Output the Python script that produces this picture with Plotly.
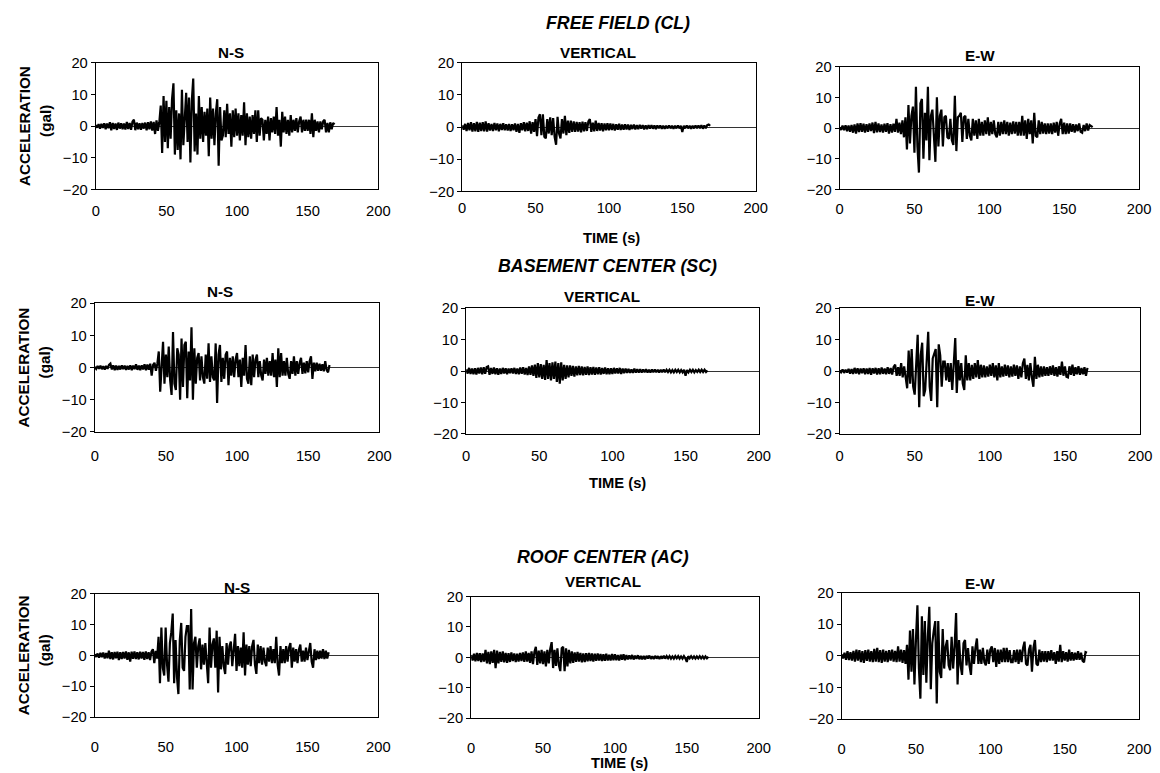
import plotly.graph_objects as go

# ---------------- data (acceleration in gal, sampled every 1 s) ----------------
TIME_FF = list(range(0, 170))   # free field records, s
TIME_B = list(range(0, 166))    # building records, s

FF_NS = [
    0.3, -0.5, 0.6, -0.8, 0.7, -0.6, 0.9, -1.0, 0.8, -0.7,
    1.2, -1.3, 1.0, -0.9, 0.8, -1.2, 1.1, -0.8, 0.9, -1.0,
    0.8, -1.1, 1.3, -0.9, 1.0, -1.2, 1.4, 2.0, -1.3, 1.1,
    -1.0, 0.9, -1.2, 1.0, -0.8, 1.1, -1.3, 1.2, -1.0, 1.5,
    -1.4, 1.3, -2.5, 1.8, -1.5, 1.2, 6.5, -8.5, 9.5, -5.0,
    8.0, -7.0, 6.0, -4.0, 8.5, 13.5, -9.0, 5.0, -7.5, 4.0,
    -10.5, 11.5, -6.0, 3.0, 10.5, -5.0, 9.0, -11.5, 8.0, 15.0,
    -8.0, 4.0, -9.0, 9.5, -4.0, 6.0, -5.0, 4.5, -3.0, 5.5,
    -9.5, 9.0, -4.0, 5.5, -6.0, 4.0, 8.5, -12.5, 6.0, -4.5,
    -3.0, 5.0, -3.5, 7.0, -2.5, 4.0, -6.5, 5.0, -3.5, 5.5,
    -3.0, 4.0, -4.5, 3.5, -3.0, 7.5, -6.0, 4.0, -3.5, 3.0,
    -4.0, 3.5, -2.5, 5.0, -5.0, 5.0, -3.0, 2.5, 2.0, -4.5,
    2.0, -2.5, 3.0, -4.5, 2.5, -2.0, 3.0, -2.5, 6.0, -3.0,
    2.0, -6.5, 4.5, -2.0, 3.0, -2.5, 2.0, -3.0, 3.5, -2.0,
    2.0, -1.5, 2.5, -2.0, 1.5, 3.0, -2.0, 2.0, -1.5, 2.0,
    -1.5, 2.0, -2.5, 4.0, -3.5, 2.0, -1.5, 1.5, -2.0, 1.5,
    -1.0, 1.5, 2.0, -2.0, 1.0, -2.0, 1.2, -1.0, 1.0, 0.5,
]

FF_V = [
    0.5, -0.8, 1.0, -1.2, 1.3, -1.0, 1.5, -1.4, 1.2, -1.3,
    1.6, -1.5, 1.4, -1.2, 1.5, -1.3, 1.8, -1.4, 1.2, -1.1,
    1.0, -1.2, 1.3, -1.0, 1.1, -1.3, 1.0, -0.9, 1.2, -1.0,
    0.9, -1.1, 1.0, -1.2, 0.9, -1.0, 1.1, -1.5, 1.0, -1.8,
    1.2, -1.0, 1.5, -1.3, 1.4, -1.2, 1.8, -2.0, 1.5, -1.5,
    2.5, -2.8, 3.0, 4.0, -2.5, 4.0, -3.0, -3.5, 2.5, -2.0,
    3.0, -2.5, 2.8, -3.0, -5.5, 3.2, -2.0, -3.5, 2.5, -2.0,
    3.5, -2.5, 2.0, -1.8, 2.0, -1.5, 1.8, -1.5, 1.6, -1.4,
    1.5, -1.6, 1.7, -1.3, 1.5, -1.2, 1.8, 2.5, -1.5, 1.4,
    -1.3, 2.0, -1.2, 1.3, -1.1, 1.2, -1.3, 1.1, -1.0, 1.2,
    -1.0, 1.1, -0.9, 1.0, -1.1, 0.9, -0.8, 1.0, -0.9, 0.8,
    -0.8, 0.9, -0.7, 0.8, -0.9, 0.7, -0.6, 0.8, -0.7, 0.6,
    -0.6, 0.7, -0.5, 0.6, -0.7, 0.5, -0.6, 0.6, -0.5, 0.6,
    -0.5, 0.5, -0.6, 0.5, -0.4, 0.5, -0.5, 0.4, -0.5, 0.4,
    -0.4, 0.5, -0.4, 0.4, -0.5, 0.4, -0.4, 0.5, -0.4, 0.4,
    -1.5, 0.4, -0.4, 0.5, -0.4, 0.4, -0.5, 0.4, -0.4, 0.5,
    -0.4, 0.5, -0.4, 0.6, -0.5, 0.5, -0.4, 0.6, 0.8, 0.4,
]

FF_EW = [
    0.3, -0.6, 0.8, -0.7, 0.9, -1.0, 0.8, -1.2, 1.0, -1.5,
    1.2, -1.8, 1.5, -1.3, 1.6, -1.2, 1.4, -1.5, 1.3, -1.2,
    1.5, -1.0, 1.8, -1.6, 2.0, -1.4, 1.5, -1.3, 1.2, -1.5,
    1.4, -1.2, 1.6, -1.8, 1.3, -1.5, 1.4, -1.2, 3.0, -1.5,
    1.8, -2.0, 2.5, -3.0, 3.5, -7.0, 7.5, -5.0, 4.0, 7.0,
    -8.0, 13.5, -6.0, -14.5, 8.0, 9.5, -10.0, 5.0, -4.0, 13.5,
    -10.5, 4.0, 6.0, -5.0, -11.0, 10.0, -6.0, 4.0, 6.0, -6.0,
    3.5, 4.0, -3.0, -3.5, 3.0, -4.0, -5.5, 10.5, -7.5, 3.5,
    4.0, 5.0, -4.5, 3.5, 4.0, -3.5, 3.0, -2.5, -4.0, 3.0,
    -2.5, 2.5, -3.5, 3.0, -2.5, 2.0, -2.5, 2.5, -2.0, 3.5,
    -2.5, 2.0, -2.0, 2.5, -2.0, -3.0, 2.0, -2.5, 2.0, -2.0,
    2.5, -2.0, 2.0, -2.5, 1.8, -2.0, 2.2, -1.8, 2.0, -2.5,
    2.0, -2.5, 4.0, -2.5, 2.5, -3.5, 3.0, -2.0, 2.5, -5.0,
    5.0, -2.5, -3.0, 2.5, -2.0, 2.0, -1.8, 1.5, -2.0, 1.5,
    -1.8, 1.5, -2.0, 1.8, -1.5, 2.0, -2.5, 1.5, 3.0, -2.0,
    1.8, -2.0, 1.5, -1.8, 1.5, -1.2, 1.3, -1.5, 1.2, -1.0,
    1.5, -1.2, -1.5, 1.0, -1.0, 1.5, -0.8, 1.0, 0.5, 0.3,
]

SC_NS = [
    0.2, -0.4, 0.5, -0.4, 0.6, -0.5, 0.4, -0.6, 0.5, -0.4,
    0.8, 1.2, -0.6, 0.7, -0.8, 0.6, -0.7, 0.5, -0.6, 0.7,
    -0.5, 0.6, -0.7, 0.5, -0.6, 0.7, -0.8, 0.6, -0.5, 1.0,
    -0.7, 0.6, -0.8, 0.7, -0.6, 1.0, -0.8, 0.9, -0.7, 1.2,
    -2.5, 0.8, 1.5, -1.0, 1.2, 5.0, -7.5, 3.0, 8.0, -5.0,
    4.0, -3.0, 6.5, -4.0, -8.5, 11.0, -5.0, -7.0, 6.0, 4.0,
    -10.0, 9.0, -6.0, 7.0, 8.0, -9.5, 5.0, -4.0, 12.5, -10.0,
    6.0, -5.0, 3.0, 4.5, -4.0, 3.5, -3.0, -5.0, 4.0, -3.5,
    7.5, -4.5, 3.5, -3.0, -4.0, 7.5, -11.0, 4.0, 7.0, -4.5,
    3.0, -3.5, 4.0, 5.0, -5.5, 3.0, -2.5, 3.5, -3.0, 2.5,
    4.5, -3.0, 2.5, -6.0, 3.0, -2.5, 7.0, -3.5, -5.0, 3.5,
    -5.5, 4.0, -3.0, 2.5, 4.0, -3.0, 2.0, -2.5, -4.0, 2.5,
    -2.0, 3.0, -2.5, 2.0, -2.5, 4.5, -3.0, 2.5, -6.0, 6.0,
    -3.0, 4.5, -2.5, 2.0, -2.5, 3.0, -2.0, -3.5, 2.0, -2.0,
    3.5, -2.5, 2.0, -2.0, 1.5, 3.0, -2.0, 1.5, -1.8, 2.0,
    -1.5, 2.0, 3.5, -3.5, 1.5, -1.2, 1.5, -1.0, 1.2, -1.0,
    1.0, -1.2, 2.0, -0.8, -1.5, 0.8,
]

SC_V = [
    0.5, -0.8, 1.0, -0.9, 0.8, -1.0, 0.9, -1.1, 1.0, -0.8,
    1.1, -1.0, 1.2, -0.9, 1.3, 1.5, -1.2, 1.0, -0.9, 1.1,
    -1.0, 0.9, -1.2, 0.8, -0.9, 1.0, -0.8, 0.9, -1.0, 0.8,
    -0.7, 0.9, -0.8, 1.0, -0.9, 0.8, -1.0, 1.1, -0.9, 1.2,
    -1.1, 1.0, -1.3, 1.5, -1.2, 1.8, -1.5, 2.0, -2.2, 2.5,
    -2.0, 2.2, -2.5, 2.0, -2.8, 3.5, -2.5, 2.5, -3.0, 2.8,
    -2.5, 3.0, -3.5, 2.5, -4.0, 2.8, -3.0, 2.0, -2.5, 1.8,
    -2.0, 1.8, -1.5, 1.6, -1.8, 1.5, -1.4, 1.6, -1.3, 1.5,
    -1.4, 1.3, -1.2, 1.5, -1.3, 1.2, -1.1, 1.3, -1.2, 1.1,
    -1.0, 1.2, -1.1, 1.0, -0.9, 1.1, -1.0, 0.9, -1.0, 0.9,
    -0.9, 1.0, -0.8, 0.9, -0.8, 1.0, -0.9, 0.8, -0.7, 0.8,
    -0.6, 0.7, -0.6, 0.5, -0.6, 0.8, -0.5, 0.6, -0.5, 0.6,
    -0.5, 0.5, -0.4, 0.6, -0.5, 0.4, -0.5, 0.5, -0.4, 0.5,
    -0.4, 0.4, -0.5, 0.4, -0.4, 0.5, -0.4, 0.4, -0.3, 0.4,
    -0.4, 0.3, -0.4, 0.4, -0.3, 0.4, -0.4, 0.3, -0.4, 0.4,
    -1.5, 0.3, -0.4, 0.4, -0.3, 0.4, -0.4, 0.3, -0.3, 0.4,
    -0.3, 0.4, -0.3, 0.4, -0.3, 0.2,
]

SC_EW = [
    0.2, -0.4, 0.5, -0.6, 0.4, -0.5, 0.7, -0.8, 0.6, -0.9,
    1.0, -0.8, 0.9, -1.0, 0.8, -0.7, 0.9, -1.0, 0.8, -0.9,
    1.0, -1.2, 0.9, -0.8, 1.0, -1.1, 0.9, -1.0, 1.1, -0.9,
    0.8, -1.0, 1.2, -0.9, 1.0, -1.1, 1.3, 2.0, -1.5, 1.2,
    -1.5, 2.5, -2.0, 1.5, -2.0, -5.5, 6.5, -4.0, 7.0, -5.0,
    -7.5, 4.0, 11.5, -11.5, 5.0, 9.0, -8.0, -6.0, 4.0, 12.5,
    -5.0, -9.5, 4.0, 6.0, 7.0, -11.5, 8.5, 5.0, -5.0, 3.0,
    3.0, -3.0, 2.5, -3.5, 2.5, -6.0, 4.0, 10.5, -7.0, 3.5,
    -3.0, 2.5, -4.0, -6.0, 5.0, -3.0, 2.5, -3.0, 2.0, -2.5,
    2.5, -2.0, 3.5, -2.5, 2.0, -2.0, 1.8, -2.0, 1.5, -1.8,
    2.0, -1.5, 2.5, -2.0, 1.8, -3.0, 2.5, -2.0, 1.5, -1.8,
    2.0, -1.5, 1.8, -2.0, 1.5, -1.8, 2.0, -1.5, 1.8, -2.5,
    1.5, -2.0, 2.5, 4.0, -2.5, 2.0, -3.0, 2.5, -2.0, -5.0,
    4.5, -2.5, 2.0, -2.0, 1.5, -1.8, 1.5, -1.5, 1.2, -1.5,
    1.5, -1.2, 1.8, -1.5, 1.2, -1.8, 1.5, -1.2, 3.0, -1.5,
    1.5, -1.8, -2.0, 1.5, -1.2, 2.0, -1.5, 1.2, -1.0, 1.5,
    -1.2, 1.0, -1.0, 1.2, -1.5, 1.0,
]

AC_NS = [
    0.4, -0.5, 0.6, -0.7, 0.8, -0.6, 0.9, -1.0, 0.8, -0.9,
    1.5, -1.2, 1.0, -1.3, 1.1, -0.9, 1.2, -1.5, 1.0, -1.2,
    1.1, -1.0, 1.3, -1.4, 1.0, -2.0, 1.2, -1.1, 1.3, -1.2,
    1.0, -1.3, 1.2, -1.0, 1.1, -1.4, 1.3, -1.2, 1.0, -1.5,
    1.2, 2.0, -2.5, 1.5, -1.0, 6.0, -9.0, 9.0, -4.0, -6.5,
    9.0, -3.0, -8.5, 4.0, 7.5, 13.5, -9.0, 5.0, -7.0, -12.5,
    5.0, 10.5, -4.0, -5.0, 6.0, 9.5, 9.5, -11.0, 15.0, -11.0,
    4.0, 6.0, -4.0, 3.0, 5.5, -4.5, 3.5, -3.0, 4.0, -3.5,
    -9.0, 9.0, -4.0, 3.5, 5.5, -4.0, 8.0, -12.0, 6.0, -4.5,
    3.0, -3.5, -6.0, 4.0, -3.0, 3.0, 4.5, -3.5, 2.5, 7.0,
    -5.0, 3.0, -3.5, 2.5, -4.0, 7.5, -6.5, 3.5, -3.0, 3.0,
    -3.5, 3.0, 5.0, -3.0, -6.0, 3.5, -2.5, 3.0, -3.0, 2.5,
    -2.0, -3.5, 2.5, -2.0, 3.0, -2.5, 2.0, -2.5, 6.0, -3.0,
    -6.5, 3.0, -2.5, 2.0, -2.5, 3.0, -2.0, 2.5, 4.0, -4.0,
    2.5, -2.0, 2.0, -2.5, 1.8, 3.5, -2.0, 1.5, -2.0, 2.5,
    -1.5, 2.0, 4.0, -2.0, -4.0, 2.0, -1.5, 1.5, -1.2, 1.5,
    -1.0, 2.0, -1.2, 1.5, -1.0, 1.0,
]

AC_V = [
    0.8, -1.0, 1.2, -1.3, 1.5, -1.2, 1.4, -1.5, 1.3, -1.4,
    2.5, -2.0, 1.8, -2.2, 2.0, -1.8, 2.5, -3.5, 2.2, -2.0,
    1.8, -1.5, 2.0, -1.6, 1.5, -1.8, 1.4, -1.5, 1.6, -1.2,
    1.3, -1.5, 1.2, -1.4, 1.5, -1.2, 1.6, -1.5, 2.0, -1.4,
    1.5, -1.8, 2.0, -2.2, 1.8, 3.5, -2.5, 2.2, -2.0, 2.5,
    -2.2, 2.0, -3.0, 2.5, -2.0, 2.8, 5.0, -3.5, 2.5, -2.8,
    3.0, -2.5, -4.5, 3.0, 3.5, -4.5, 3.0, -3.0, 2.5, -2.0,
    2.0, -1.8, 1.6, -1.5, 1.8, -1.4, 1.5, -1.6, 1.3, -1.5,
    1.4, -1.3, 1.5, -1.2, 1.3, -1.4, 1.2, -1.1, 1.3, -1.0,
    1.1, -1.2, 1.0, -1.1, 1.2, -1.0, 0.9, -1.0, 1.1, -0.9,
    1.0, -0.9, 0.8, -1.0, 0.9, -0.8, 1.0, -0.9, 0.8, -0.7,
    0.7, -0.6, 0.8, -0.7, 0.6, -0.5, 0.7, -0.6, 0.5, -0.6,
    0.5, -0.6, 0.5, -0.4, 0.6, -0.5, 0.4, -0.5, 0.5, -0.4,
    0.4, -0.5, 0.4, -0.4, 0.5, -0.4, 0.4, -0.3, 0.4, -0.4,
    0.3, -0.4, 0.4, -0.3, 0.4, -0.4, 0.3, -0.4, 0.4, -0.3,
    -1.5, 0.4, -0.3, 0.4, -0.3, 0.3, -0.4, 0.3, -0.3, 0.4,
    -0.3, 0.3, -0.4, 0.3, -0.3, 0.2,
]

AC_EW = [
    0.5, -0.8, 1.0, -1.2, 1.5, -1.3, 1.2, -1.5, 1.6, -1.8,
    2.0, -1.5, 1.8, -2.0, 1.5, -2.2, 1.8, -1.6, 2.0, -1.8,
    1.5, -2.0, 2.2, -1.8, 2.5, -2.0, 1.8, -2.2, 2.0, -1.8,
    1.6, -2.0, 1.8, -1.5, 2.0, -1.8, 1.6, -2.0, 3.0, -1.8,
    2.0, -2.2, 1.8, -2.5, 3.5, -7.5, 8.0, -5.0, 8.5, -9.0,
    5.0, 16.0, -4.0, -13.5, 12.5, -6.0, 11.0, -8.5, 6.0, 15.5,
    -10.5, 4.0, 8.0, 11.0, -15.0, 11.0, -5.0, -7.0, 8.5, -4.0,
    3.0, 5.0, -3.0, -4.5, 6.0, -4.0, 3.0, 13.5, -9.0, 5.0,
    -3.0, -6.0, 4.0, 5.0, -3.0, 2.5, -3.0, -6.0, 3.0, -2.5,
    2.5, 5.5, -2.5, 2.0, -2.5, 2.5, -2.0, -3.0, 2.0, -2.5,
    2.0, 3.0, -2.0, 2.5, -3.5, 2.0, -2.5, 2.0, -2.0, 2.5,
    -2.0, 2.5, -2.0, 1.8, -2.0, -2.0, 1.8, -2.0, 2.0, -2.5,
    2.0, -2.0, 2.5, 4.5, -2.5, -3.0, 2.0, 3.5, -5.0, 2.5,
    5.0, -2.5, -3.0, 2.0, -2.0, 1.5, -1.8, 1.5, -2.0, 1.5,
    -1.5, 1.8, -1.5, 1.2, -2.5, 1.5, -1.8, 3.5, -2.0, 1.5,
    -1.5, 1.2, -1.8, 2.0, -1.5, 1.2, -1.5, 1.0, -1.2, 1.5,
    -1.2, 1.0, -1.5, -2.0, 1.2, 1.0,
]

SECTION_TITLES = ["FREE FIELD (CL)", "BASEMENT CENTER (SC)", "ROOF CENTER (AC)"]
COMPONENT_TITLES = ["N-S", "VERTICAL", "E-W"]
X_TICKS = [0, 50, 100, 150, 200]
Y_TICKS = [-20, -10, 0, 10, 20]
X_LABEL = "TIME (s)"
Y_LABEL = ["ACCELERATION", "(gal)"]

# ---------------- layout ----------------
W, H = 1160, 773
FONT = "Liberation Sans, Arial, sans-serif"
# measured mapping from page pixels to the photographed picture
SX, BX = 0.9878, 3.1
SY, BY = 0.9815, 7.15
FS = 1 / 0.985   # font compensation


def fx(px):
    return ((px - BX) / SX) / W


def fy(py):
    return 1 - ((py - BY) / SY) / H


series = [
    (TIME_FF, FF_NS), (TIME_FF, FF_V), (TIME_FF, FF_EW),
    (TIME_B, SC_NS), (TIME_B, SC_V), (TIME_B, SC_EW),
    (TIME_B, AC_NS), (TIME_B, AC_V), (TIME_B, AC_EW),
]
# target (x0, x1, ytop, ybottom) of each plot box, and x tick label standoff
boxes = [
    (95, 378, 62, 189, 8), (462, 756, 62, 191, 3), (840, 1140, 66, 189, 6),
    (94, 379, 303, 432, 10), (466, 759, 308, 434, 8), (840, 1141, 308, 434, 8),
    (94, 378, 594, 718, 16), (471, 759, 597, 719, 16), (842, 1140, 593, 720, 16),
]
sub_pos = [
    (230, 52), (598, 52), (981, 55),
    (219, 291), (602, 296), (981, 300),
    (236, 588), (603, 582), (981, 584),
]
section_pos = [(618, 22), (608, 266), (603, 557)]
time_pos = [(612, 238), (618, 483), (620, 764)]

fig = go.Figure()
annotations = []

for i, ((t, v), (x0, x1, y0, y1, so)) in enumerate(zip(series, boxes), start=1):
    xa = "x" if i == 1 else f"x{i}"
    ya = "y" if i == 1 else f"y{i}"
    fig.add_trace(go.Scatter(
        x=t, y=v, mode="lines", xaxis=xa, yaxis=ya,
        line=dict(color="black", width=2.2), showlegend=False, hoverinfo="skip",
    ))
    fig.layout["xaxis" if i == 1 else f"xaxis{i}"] = dict(
        domain=[fx(x0), fx(x1)], range=[0, 200], tickvals=X_TICKS,
        ticks="", showline=True, mirror=True, linecolor="black", linewidth=1,
        showgrid=False, zeroline=False, anchor=ya, ticklabelstandoff=so,
        tickfont=dict(family=FONT, size=14.5 * FS, color="black"), fixedrange=True,
    )
    fig.layout["yaxis" if i == 1 else f"yaxis{i}"] = dict(
        domain=[fy(y1), fy(y0)], range=[-20, 20], tickvals=Y_TICKS,
        ticks="outside", ticklen=4, tickcolor="black", showline=True, mirror=True,
        linecolor="black", linewidth=1, showgrid=False,
        zeroline=True, zerolinecolor="#333333", zerolinewidth=1, anchor=xa,
        tickfont=dict(family=FONT, size=14.5 * FS, color="black"), fixedrange=True,
    )


def ann(text, px, py, size, bold=True, italic=False, angle=0):
    s = text
    if bold:
        s = f"<b>{s}</b>"
    if italic:
        s = f"<i>{s}</i>"
    annotations.append(dict(
        text=s, x=fx(px), y=fy(py), xref="paper", yref="paper",
        xanchor="center", yanchor="middle", showarrow=False, textangle=angle,
        font=dict(family=FONT, size=size * FS, color="black"),
    ))


for k, (px, py) in enumerate(sub_pos):
    ann(COMPONENT_TITLES[k % 3], px, py, 15)
for k, (px, py) in enumerate(section_pos):
    ann(SECTION_TITLES[k], px, py, 17.5, italic=True)
for (px, py) in time_pos:
    ann(X_LABEL, px, py, 14.5)
for r in range(3):
    x0, x1, y0, y1, _ = boxes[3 * r]
    yc = (y0 + y1) / 2
    ann(Y_LABEL[0], 23, yc, 15, angle=-90)
    ann(Y_LABEL[1], 44, yc - 5, 15, angle=-90)

fig.update_layout(
    width=W, height=H, margin=dict(l=0, r=0, t=0, b=0),
    paper_bgcolor="white", plot_bgcolor="white",
    annotations=annotations, showlegend=False,
)

fig.write_html(
    "out.html", config={"displayModeBar": False},
    post_script="document.body.style.margin='0';document.body.style.overflow='hidden';",
)
